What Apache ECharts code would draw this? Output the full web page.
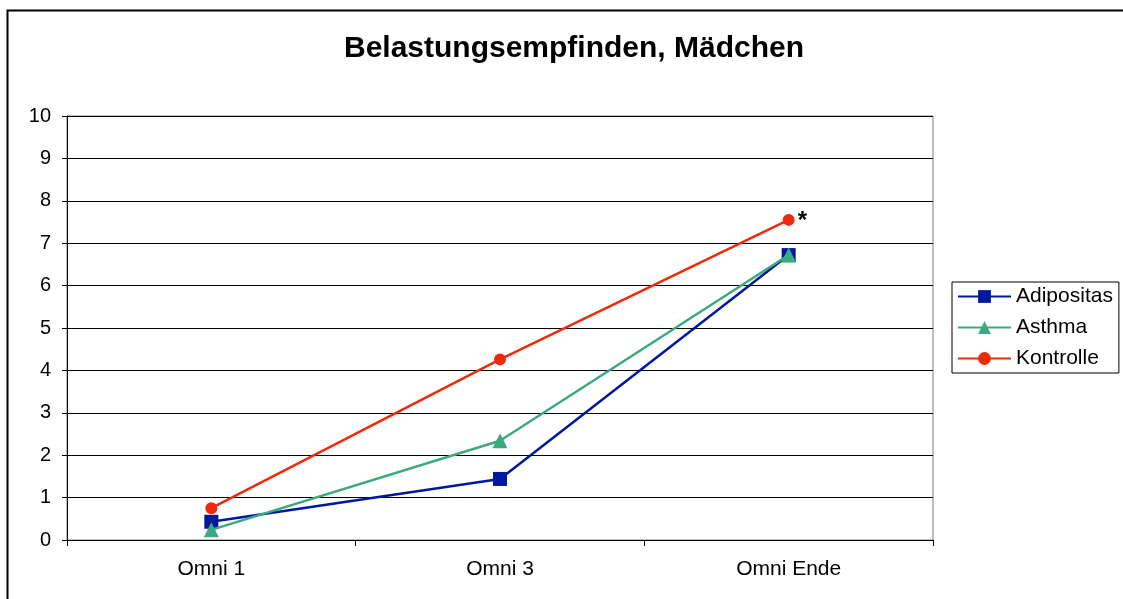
<!DOCTYPE html>
<html style="height: 100%">
<head>
  <meta charset="utf-8">
  <title>Belastungsempfinden, Mädchen</title>
</head>
<body style="height: 100%; margin: 0; background: #fff">
<div id="container" style="width: 1123px; height: 599px;"></div>
<script type="text/javascript" src="https://cdn.jsdelivr.net/npm/echarts@6/dist/echarts.min.js"></script>
<script type="text/javascript">
  // Daten
  var categories = ['Omni 1', 'Omni 3', 'Omni Ende'];
  var adipositas = [0.43, 1.44, 6.72];
  var asthma = [0.24, 2.34, 6.72];
  var kontrolle = [0.75, 4.26, 7.55];
  var yTicks = [0, 1, 2, 3, 4, 5, 6, 7, 8, 9, 10];

  var dom = document.getElementById("container");
  var myChart = echarts.init(dom);

  var font = 'Arial, "Liberation Sans", sans-serif';

  var option = {
    animation: false,
    backgroundColor: '#fff',
    title: {
      text: 'Belastungsempfinden, Mädchen',
      left: 569,
      textAlign: 'center',
      top: 29,
      textStyle: { fontFamily: font, fontSize: 30, fontWeight: 'bold', color: '#000' }
    },
    graphic: [{
      type: 'rect',
      shape: { x: 7.5, y: 10.5, width: 1130, height: 620 },
      style: { fill: null, stroke: '#000', lineWidth: 2 },
      silent: true
    }],
    legend: {
      orient: 'vertical',
      left: 952,
      top: 282,
      padding: [4, 6, 4, 5],
      borderColor: '#000',
      borderWidth: 1,
      itemGap: 10,
      itemWidth: 53,
      itemHeight: 16,
      textStyle: { fontFamily: font, fontSize: 21, color: '#000' },
      data: ['Adipositas', 'Asthma', 'Kontrolle']
    },
    grid: {
      left: 67,
      right: 190,
      top: 116,
      bottom: 59,
      show: true,
      borderColor: '#808080',
      borderWidth: 1
    },
    xAxis: {
      type: 'category',
      data: categories,
      boundaryGap: true,
      axisLine: { lineStyle: { color: '#000', width: 1 } },
      axisTick: { show: true, length: 6, lineStyle: { color: '#000' } },
      axisLabel: { fontFamily: font, fontSize: 21, color: '#000', margin: 19 }
    },
    yAxis: {
      type: 'value',
      min: 0,
      max: 10,
      interval: 1,
      axisLine: { show: true, lineStyle: { color: '#000', width: 1 } },
      axisTick: { show: true, length: 5, lineStyle: { color: '#000' } },
      axisLabel: {
        fontFamily: font, fontSize: 20, color: '#000', margin: 16,
        formatter: function (v) { return yTicks.indexOf(v) >= 0 ? String(v) : ''; }
      },
      splitLine: { show: true, lineStyle: { color: '#000', width: 1 } }
    },
    series: [
      {
        name: 'Adipositas',
        type: 'line',
        data: adipositas,
        symbol: 'rect',
        symbolSize: 14,
        color: '#0018A0',
        lineStyle: { width: 2.5, color: '#0018A0' },
        itemStyle: { color: '#0018A0' },
        z: 3
      },
      {
        name: 'Asthma',
        type: 'line',
        data: asthma,
        symbol: 'triangle',
        symbolSize: 15,
        color: '#3BAA7C',
        lineStyle: { width: 2.5, color: '#3BAA7C' },
        itemStyle: { color: '#3BAA7C' },
        z: 4
      },
      {
        name: 'Kontrolle',
        type: 'line',
        data: kontrolle.map(function (v, i) {
          if (i === kontrolle.length - 1) {
            return {
              value: v,
              label: {
                show: true, formatter: '*', position: 'right', offset: [-2, 1],
                fontFamily: font, fontSize: 24, fontWeight: 'bold', color: '#000'
              }
            };
          }
          return v;
        }),
        symbol: 'circle',
        symbolSize: 12,
        color: '#EE2A0C',
        lineStyle: { width: 2.5, color: '#EE2A0C' },
        itemStyle: { color: '#EE2A0C' },
        z: 5
      }
    ]
  };

  myChart.setOption(option, true);
</script>
</body>
</html>
